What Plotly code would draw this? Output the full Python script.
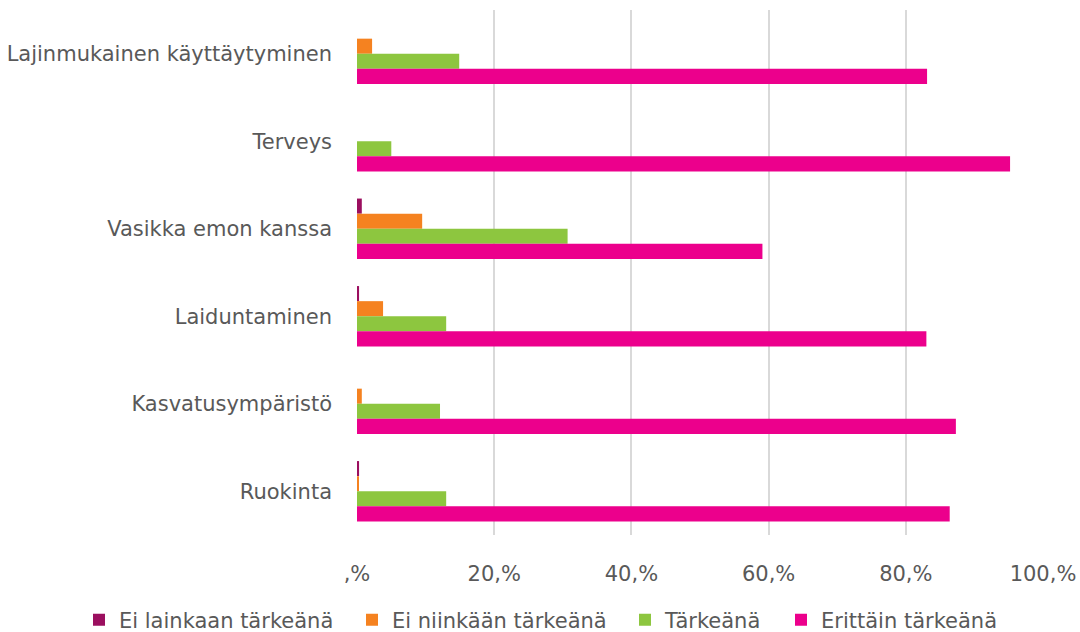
import plotly.graph_objects as go

categories = ["Lajinmukainen käyttäytyminen", "Terveys", "Vasikka emon kanssa",
              "Laiduntaminen", "Kasvatusympäristö", "Ruokinta"]
series_names = ["Ei lainkaan tärkeänä", "Ei niinkään tärkeänä", "Tärkeänä", "Erittäin tärkeänä"]
ei_lainkaan = [0.0, 0.0, 0.7, 0.3, 0.0, 0.3]
ei_niinkaan = [2.2, 0.0, 9.5, 3.8, 0.7, 0.2]
tarkea = [14.9, 5.0, 30.7, 13.0, 12.1, 13.0]
erittain = [83.1, 95.2, 59.1, 83.0, 87.3, 86.4]
tick_vals = [0, 20, 40, 60, 80, 100]
tick_text = [",%", "20,%", "40,%", "60,%", "80,%", "100,%"]

colors = ["#9b0f5f", "#f58220", "#8dc63f", "#ec008c"]
values = [ei_lainkaan, ei_niinkaan, tarkea, erittain]

# plot area in pixels, used to place the legend entries like the original
plot_l, plot_w = 357, 686
legend_px = [79, 352, 625, 781]
legend_ids = ["legend", "legend2", "legend3", "legend4"]

fig = go.Figure()
for name, vals, col, lid in zip(series_names, values, colors, legend_ids):
    fig.add_trace(go.Bar(y=categories, x=vals, name=name, orientation="h",
                         legend=lid,
                         marker=dict(color=col, line=dict(width=0))))

font = "'DejaVu Sans', sans-serif"
fig.update_layout(
    barmode="group",
    bargap=0.31,
    bargroupgap=0,
    width=1080, height=632,
    margin=dict(l=357, r=37, t=10, b=97, autoexpand=False),
    plot_bgcolor="white", paper_bgcolor="white",
    font=dict(family=font, size=21, color="#595959"),
    showlegend=True,
    xaxis=dict(range=[0, 100], tickvals=tick_vals, ticktext=tick_text,
               showgrid=True, gridcolor="#d9d9d9", gridwidth=2, zeroline=False,
               showline=False, ticks="", ticklabelstandoff=24, automargin=False),
    yaxis=dict(autorange="reversed", showgrid=False, ticks="", showline=False,
               ticklabelstandoff=24, automargin=False),
)

# one legend per series so each entry sits where the original puts it
for lid, px in zip(legend_ids, legend_px):
    fig.update_layout({lid: dict(orientation="h", x=(px - plot_l) / plot_w, xanchor="left",
                                 y=-0.162, yanchor="middle", bgcolor="rgba(0,0,0,0)",
                                 font=dict(size=21), itemwidth=30)})

# page body has a default 8px margin; drop it so the figure sits at 0,0
fig.write_html("out.html", config={"displayModeBar": False},
               post_script="document.body.style.margin='0';")
